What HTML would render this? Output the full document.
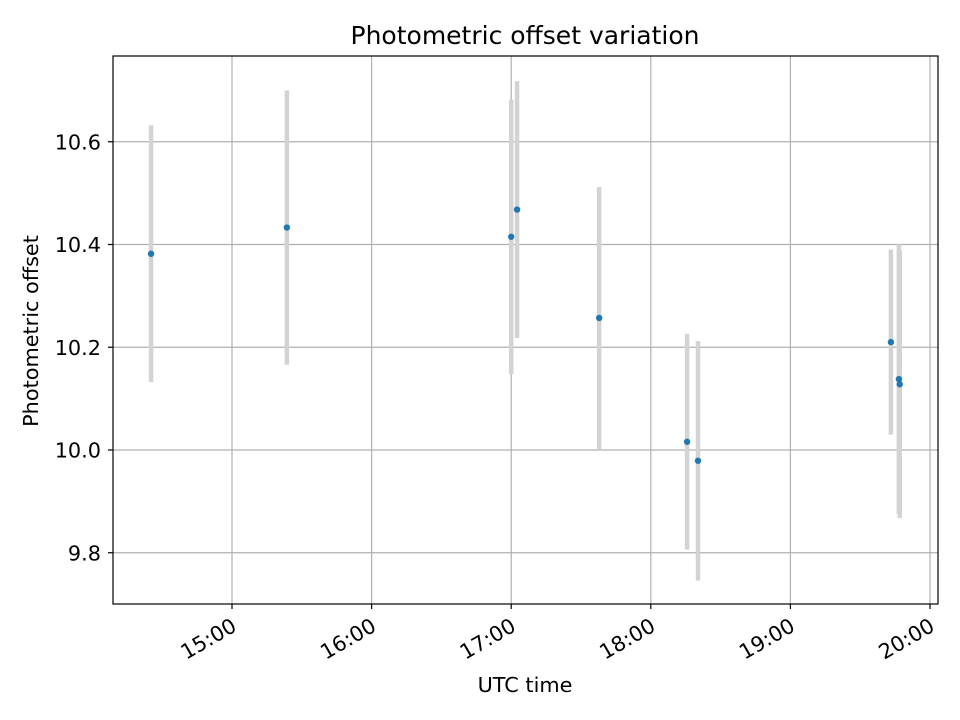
<!DOCTYPE html>
<html><head><meta charset="utf-8"><style>
html,body{margin:0;padding:0;background:#fff;}
svg{display:block;font-family:"DejaVu Sans","Liberation Sans",sans-serif;}
</style></head><body>
<svg id="chart" width="960" height="720">
<rect width="960" height="720" fill="#fff"/>
<text x="525" y="44" text-anchor="middle" font-size="25">Photometric offset variation</text>
<g id="grid"></g>
<g id="bars"></g>
<g id="pts"></g>
<rect x="113" y="56" width="825" height="548" fill="none" stroke="#000" stroke-width="1.2"/>
<g id="ticks"></g>
<text x="525" y="692" text-anchor="middle" font-size="20.8">UTC time</text>
<text transform="translate(38,331) rotate(-90)" text-anchor="middle" font-size="20.8">Photometric offset</text>
</svg>
<script>
const times = [14.42, 15.393, 17.0, 17.042, 17.63, 18.26, 18.338, 19.72, 19.777, 19.783];
const values = [10.382, 10.433, 10.415, 10.468, 10.257, 10.016, 9.979, 10.21, 10.138, 10.128];
const errors = [0.25, 0.267, 0.267, 0.25, 0.255, 0.21, 0.233, 0.18, 0.262, 0.26];
const yTicks = [9.8, 10.0, 10.2, 10.4, 10.6];
const yTickLabels = ["9.8", "10.0", "10.2", "10.4", "10.6"];
const xTicks = [15, 16, 17, 18, 19, 20];
const xTickLabels = ["15:00", "16:00", "17:00", "18:00", "19:00", "20:00"];

const NS = "http://www.w3.org/2000/svg";
function X(h){ return 232 + (h - 15) * 139.6; }
function Y(v){ return 450 - (v - 10.0) * 513.75; }
function mk(tag, attrs, parent){
  const e = document.createElementNS(NS, tag);
  for (const k in attrs) e.setAttribute(k, attrs[k]);
  document.getElementById(parent).appendChild(e);
  return e;
}
yTicks.forEach((v, i) => {
  const y = Y(v);
  const g = mk("line", {x1:113, x2:938, y1:y, y2:y, stroke:"#b0b0b0", "stroke-width":1.2}, "grid");
  
  
  const t = mk("line", {x1:108, x2:113, y1:y, y2:y, stroke:"#000", "stroke-width":1.2}, "ticks");
  
  
  const l = mk("text", {x:101, y:y + 7.5, "text-anchor":"end", "font-size":20.8}, "ticks");
  l.textContent = yTickLabels[i];
  
  
});
xTicks.forEach((h, i) => {
  const x = X(h);
  const g = mk("line", {x1:x, x2:x, y1:56, y2:604, stroke:"#b0b0b0", "stroke-width":1.2}, "grid");
  
  
  const t = mk("line", {x1:x, x2:x, y1:604, y2:609, stroke:"#000", "stroke-width":1.2}, "ticks");
  
  
  const l = mk("text", {transform:"translate(" + (x + 6) + ",630) rotate(-30)", "text-anchor":"end", "font-size":20.8}, "ticks");
  l.textContent = xTickLabels[i];
  
  
});
times.forEach((h, i) => {
  const x = X(h);
  const b = mk("line", {x1:x, x2:x, y1:Y(values[i] + errors[i]), y2:Y(values[i] - errors[i]), stroke:"#d3d3d3", "stroke-width":4.5}, "bars");
  
  
  const p = mk("circle", {cx:x, cy:Y(values[i]), r:3.2, fill:"#1f77b4"}, "pts");
  
  
});
</script>
</body></html>
